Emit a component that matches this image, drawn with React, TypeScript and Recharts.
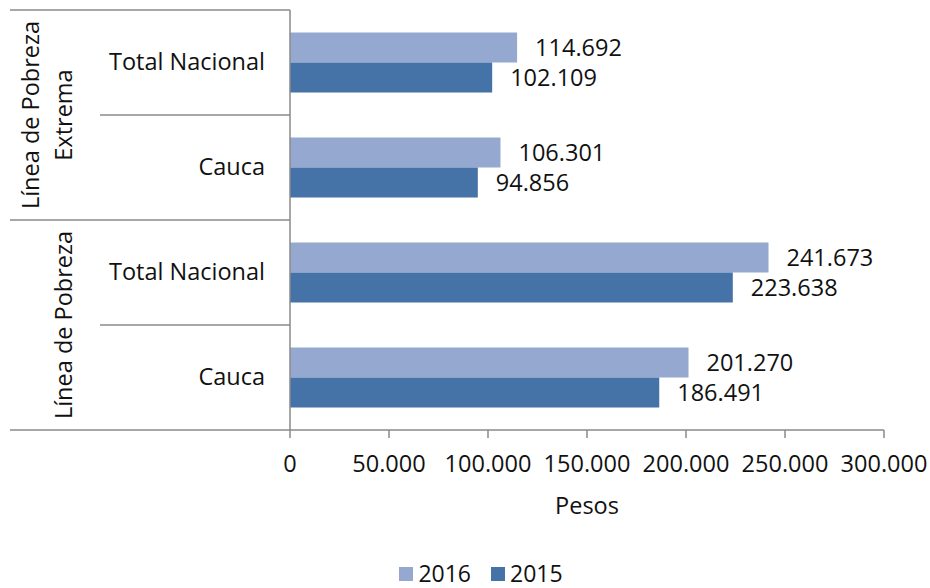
import { Bar, BarChart, LabelList, Legend, XAxis, YAxis } from "recharts";

const FONT = "'Open Sans', 'Noto Sans', sans-serif";
const FS = 23.5;
const W = 930;
const H = 588;
const PLOT_TOP = 10;
const PLOT_BOTTOM = 430;
const PLOT_LEFT = 290;

const groups = ["Línea de Pobreza\nExtrema", "Línea de Pobreza"];
const categories = ["Total Nacional", "Cauca", "Total Nacional", "Cauca"];
const categoryGroup = [0, 0, 1, 1];
const values2016 = [114692, 106301, 241673, 201270];
const values2015 = [102109, 94856, 223638, 186491];
const xTicks = [0, 50000, 100000, 150000, 200000, 250000, 300000];

const rows = categories.map((name, i) => ({
  id: `r${i}`,
  name,
  group: categoryGroup[i],
  v2016: values2016[i],
  v2015: values2015[i],
}));

const fmt = (v: number) => String(v).replace(/\B(?=(\d{3})+(?!\d))/g, ".");

const LIGHT = "#95a9d0";
const DARK = "#4572a7";
const AXIS = "#8a8a8a";

function CategoryTick(props: any) {
  const { y, index } = props;
  const band = (PLOT_BOTTOM - PLOT_TOP) / rows.length;
  const row = rows[index];
  const top = y - band / 2;
  const firstOfGroup = index === 0 || rows[index - 1].group !== row.group;
  const groupSize = rows.filter((r) => r.group === row.group).length;
  const lines = groups[row.group].split("\n");
  const gy = top + (groupSize * band) / 2;
  return (
    <g>
      <line x1={firstOfGroup ? 10 : 100} x2={PLOT_LEFT} y1={top} y2={top} stroke={AXIS} strokeWidth={1.5} />
      {index === rows.length - 1 ? (
        <line x1={10} x2={PLOT_LEFT} y1={top + band} y2={top + band} stroke={AXIS} strokeWidth={1.5} />
      ) : null}
      <text x={265} y={y - 1.5} textAnchor="end" dominantBaseline="central" fontSize={FS} fill="#111" fontFamily={FONT}>
        {row.name}
      </text>
      {firstOfGroup
        ? lines.map((ln, k) => {
            const cx = 63 - (lines.length - 1 - k) * 33;
            return (
              <text
                key={k}
                x={cx}
                y={gy}
                transform={`rotate(-90 ${cx} ${gy})`}
                textAnchor="middle"
                dominantBaseline="central"
                fontSize={FS}
                fill="#111"
                fontFamily={FONT}
              >
                {ln}
              </text>
            );
          })
        : null}
    </g>
  );
}

function LegendContent() {
  const items = [
    { label: "2016", color: LIGHT },
    { label: "2015", color: DARK },
  ];
  return (
    <div style={{ display: "flex", justifyContent: "center", paddingLeft: 68, fontFamily: FONT, fontSize: 23, color: "#111", lineHeight: "29px" }}>
      {items.map((it) => (
        <span key={it.label} style={{ display: "inline-flex", alignItems: "center", margin: "0 10px" }}>
          <span style={{ width: 14, height: 14, background: it.color, display: "inline-block", marginRight: 5 }} />
          {it.label}
        </span>
      ))}
    </div>
  );
}

export default function App() {
  return (
    <div style={{ position: "absolute", left: 0, top: 0, width: W, height: H, background: "#fff" }}>
      <BarChart
        layout="vertical"
        width={W}
        height={H}
        data={rows}
        margin={{ top: PLOT_TOP, right: W - 884, bottom: 0, left: 10 }}
        barCategoryGap="21.4%"
        barGap={0}
      >
        <XAxis
          type="number"
          domain={[0, 300000]}
          ticks={xTicks}
          tickFormatter={fmt}
          interval={0}
          height={129}
          stroke={AXIS}
          strokeWidth={1.5}
          tickSize={8}
          tickMargin={17}
          tick={{ fontSize: FS, fill: "#111", fontFamily: FONT }}
          label={{ value: "Pesos", position: "insideBottom", offset: 45, fontSize: FS, fill: "#111", fontFamily: FONT }}
        />
        <YAxis
          type="category"
          dataKey="id"
          width={280}
          stroke={AXIS}
          strokeWidth={1.5}
          tickLine={false}
          tick={<CategoryTick />}
          interval={0}
        />
        <Legend verticalAlign="bottom" height={29} content={<LegendContent />} />
        <Bar dataKey="v2016" name="2016" fill={LIGHT} isAnimationActive={false}>
          <LabelList dataKey="v2016" position="right" offset={18} formatter={(v: any) => fmt(Number(v))} fontSize={FS} fill="#111" fontFamily={FONT} />
        </Bar>
        <Bar dataKey="v2015" name="2015" fill={DARK} isAnimationActive={false}>
          <LabelList dataKey="v2015" position="right" offset={18} formatter={(v: any) => fmt(Number(v))} fontSize={FS} fill="#111" fontFamily={FONT} />
        </Bar>
      </BarChart>
    </div>
  );
}
